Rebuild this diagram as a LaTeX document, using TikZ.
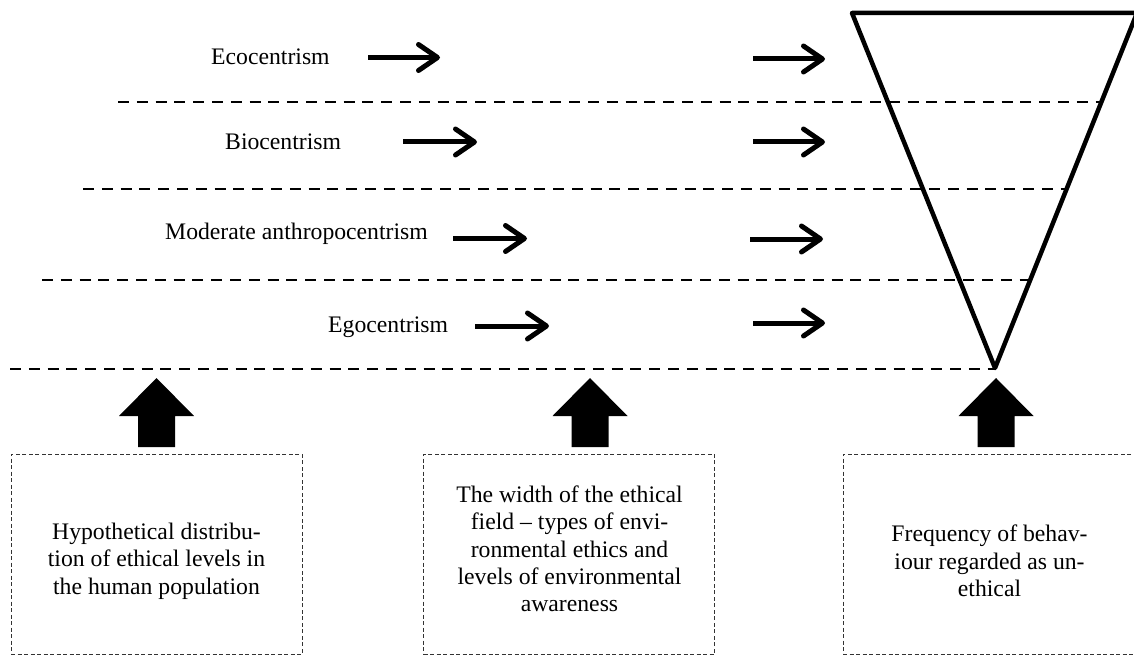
\documentclass[tikz,border=0pt]{standalone}
\usepackage{fontspec}
\setmainfont{Liberation Serif}
\usetikzlibrary{arrows.meta}
\begin{document}
\begin{tikzpicture}[x=1pt,y=-1pt,
  level/.style={draw=black,line width=2.6pt,dash pattern=on 11pt off 7.8pt},
  rarrow/.style={line width=5pt,-{Straight Barb[length=19pt,width=26pt,round]}},
  lbl/.style={anchor=base west,inner sep=0pt,font=\fontsize{23.7}{27.3}\selectfont},
  fieldbox/.style={draw=black!80,line width=1pt,dash pattern=on 4pt off 2.5pt,minimum width=291pt,minimum height=200pt,inner sep=0pt},
  boxtext/.style={align=center,inner sep=0pt,font=\fontsize{23.7}{27.3}\selectfont},
  funnel/.style={draw=black,line width=4.5pt,line join=round},
  bigup/.style={fill=black,draw=none}]
\useasboundingbox (0,0) rectangle (1134,655);

% level separators
\draw[level] (118,102) -- (1100,102);
\draw[level] (83,189) -- (1067,189);
\draw[level] (42,280) -- (1028,280);
\draw[level] (10,369) -- (995,369);

% funnel
\draw[funnel] (852,13) -- (1137,13) -- (995,368) -- cycle;

% labels
\node[lbl] (eco) at (211,65) {Ecocentrism};
\node[lbl] (bio) at (225,150) {Biocentrism};
\node[lbl] (mod) at (165,239) {Moderate anthropocentrism};
\node[lbl] (ego) at (328,332) {Egocentrism};

% left arrows
\coordinate (a1s) at (368,57.5); \coordinate (a1e) at (440,57.5);
\coordinate (a2s) at (403,142); \coordinate (a2e) at (477,142);
\coordinate (a3s) at (453,238.5); \coordinate (a3e) at (527,238.5);
\coordinate (a4s) at (475,326); \coordinate (a4e) at (549,326);
\draw[rarrow] (a1s) -- (a1e);
\draw[rarrow] (a2s) -- (a2e);
\draw[rarrow] (a3s) -- (a3e);
\draw[rarrow] (a4s) -- (a4e);

% right arrows
\coordinate (b1s) at (753,59); \coordinate (b1e) at (825,59);
\coordinate (b2s) at (753,142); \coordinate (b2e) at (825,142);
\coordinate (b3s) at (750,239); \coordinate (b3e) at (823,239);
\coordinate (b4s) at (753,323); \coordinate (b4e) at (825,323);
\draw[rarrow] (b1s) -- (b1e);
\draw[rarrow] (b2s) -- (b2e);
\draw[rarrow] (b3s) -- (b3e);
\draw[rarrow] (b4s) -- (b4e);

% big up arrows
\foreach \c in {156.5,590,996}{
  \fill[bigup] (\c,378) -- (\c+37.5,416) -- (\c+18.5,416) -- (\c+18.5,447)
     -- (\c-18.5,447) -- (\c-18.5,416) -- (\c-37.5,416) -- cycle;
}

% boxes
\node[fieldbox] (box1) at (156.5,554) {};
\node[fieldbox] (box2) at (569,554) {};
\node[fieldbox] (box3) at (988.5,554) {};
\node[boxtext] (txt1) at (156.5,561) {Hypothetical distribu-\\tion of ethical levels in\\the human population};
\node[boxtext] (txt2) at (569.5,549) {The width of the ethical\\field -- types of envi-\\ronmental ethics and\\levels of environmental\\awareness};
\node[boxtext] (txt3) at (989.5,561) {Frequency of behav-\\iour regarded as un-\\ethical};
\end{tikzpicture}
\end{document}
